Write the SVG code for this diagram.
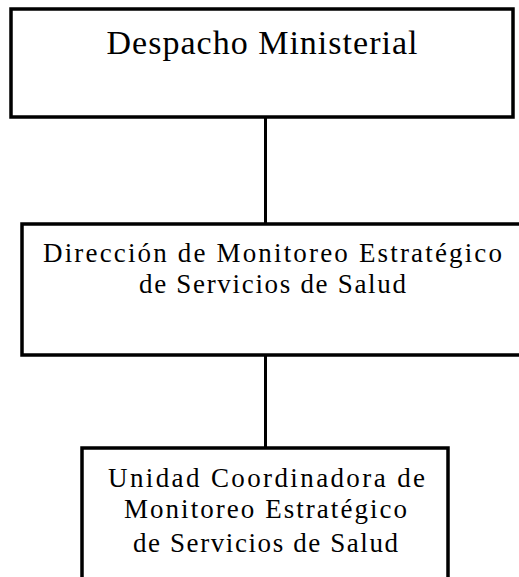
<svg xmlns="http://www.w3.org/2000/svg" width="519" height="577" viewBox="0 0 519 577">
<style>
.box{fill:#fff;stroke:#000;stroke-width:3.5}
.conn{stroke:#000;stroke-width:3;fill:none}
text{font-family:"Liberation Serif","Times New Roman",serif;fill:#000;text-anchor:middle}
.t1{font-size:34px}
.t2{font-size:27px}
</style>
<rect width="519" height="577" fill="#fff"/>
<g id="connectors">
<line class="conn" x1="265.5" y1="118" x2="265.5" y2="224"/>
<line class="conn" x1="265.5" y1="356" x2="265.5" y2="448"/>
</g>
<g id="despacho">
<rect class="box" x="11" y="9" width="502" height="108"/>
<text class="t1" x="262" y="54" textLength="311">Despacho Ministerial</text>
</g>
<g id="direccion">
<rect class="box" x="22" y="224" width="530" height="131"/>
<text class="t2" x="272.5" y="262" textLength="459">Dirección de Monitoreo Estratégico</text>
<text class="t2" x="272.5" y="293" textLength="267">de Servicios de Salud</text>
</g>
<g id="unidad">
<rect class="box" x="82" y="448" width="366" height="160"/>
<text class="t2" x="266.5" y="487" textLength="317">Unidad Coordinadora de</text>
<text class="t2" x="265.5" y="518" textLength="283">Monitoreo Estratégico</text>
<text class="t2" x="265.5" y="552" textLength="265">de Servicios de Salud</text>
</g>
</svg>
